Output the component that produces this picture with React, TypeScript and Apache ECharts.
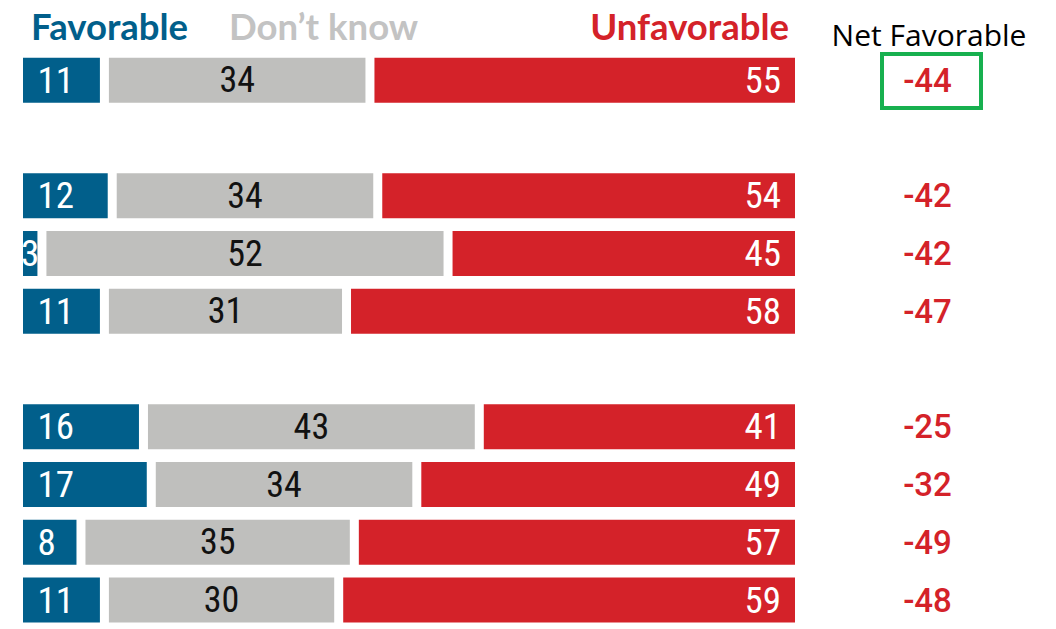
import React, { useEffect, useRef } from 'react';
import * as echarts from 'echarts';

// Rows of the chart; spacer entries are the blank rows between groups
const rows = ['Row 1', 'Spacer 1', 'Row 2', 'Row 3', 'Row 4', 'Spacer 2', 'Row 5', 'Row 6', 'Row 7', 'Row 8'];
const favorable = [11, null, 12, 3, 11, null, 16, 17, 8, 11];
const dontKnow = [34, null, 34, 52, 31, null, 43, 34, 35, 30];
const unfavorable = [55, null, 54, 45, 58, null, 41, 49, 57, 59];
const netFavorable = [-44, null, -42, -42, -47, null, -25, -32, -49, -48];
const headers = ['Favorable', 'Don’t know', 'Unfavorable', 'Net Favorable'];

const BLUE = '#015f8b';
const GRAY = '#bfbfbd';
const RED = '#d42229';
const GREEN = '#17b04f';
const HEAD_FONT = 'Lato, "Open Sans", sans-serif';
const NET_HEAD_FONT = '"Open Sans", Lato, sans-serif';
const NUM_FONT = '"Liberation Sans Narrow", "Roboto Condensed", "DejaVu Sans Condensed", Roboto, sans-serif';
const NET_FONT = 'Roboto, "Liberation Sans Narrow", sans-serif';

export default function App() {
  const ref = useRef<HTMLDivElement>(null);
  useEffect(() => {
    if (!ref.current) return;
    const chart = echarts.init(ref.current, undefined, { renderer: 'svg' });
    const barBase = {
      type: 'bar',
      stack: 'total',
      barWidth: 54,
      itemStyle: { borderColor: '#ffffff', borderWidth: 4.5 },
    };
    const favData = favorable.map((v) =>
      v == null ? null : v < 5 ? { value: v, label: { position: 'inside' } } : v
    );
    chart.setOption({
      animation: false,
      backgroundColor: '#ffffff',
      grid: { left: 18.5, top: 51.33, width: 781, height: 583.33, containLabel: false },
      xAxis: { type: 'value', min: 0, max: 100, show: false },
      yAxis: [
        { type: 'category', data: rows, inverse: true, show: false },
        {
          type: 'category',
          data: rows,
          inverse: true,
          position: 'right',
          axisLine: { show: false },
          axisTick: { show: false },
          splitLine: { show: false },
          axisLabel: {
            margin: 128,
            align: 'center',
            color: RED,
            fontSize: 33,
            fontWeight: 500,
            fontFamily: NET_FONT,
            formatter: (_v: string, i: number) => (netFavorable[i] == null ? '' : String(netFavorable[i])),
          },
        },
      ],
      series: [
        {
          ...barBase,
          name: headers[0],
          data: favData,
          itemStyle: { ...barBase.itemStyle, color: BLUE },
          label: { show: true, position: 'insideLeft', distance: 19, color: '#fff', fontSize: 37, fontFamily: NUM_FONT },
        },
        {
          ...barBase,
          name: headers[1],
          data: dontKnow,
          itemStyle: { ...barBase.itemStyle, color: GRAY },
          label: { show: true, position: 'inside', color: '#111', fontSize: 36, fontFamily: NUM_FONT },
        },
        {
          ...barBase,
          name: headers[2],
          data: unfavorable,
          itemStyle: { ...barBase.itemStyle, color: RED },
          label: { show: true, position: 'insideRight', distance: 18.5, color: '#fff', fontSize: 37, fontFamily: NUM_FONT },
        },
      ],
      graphic: [
        { type: 'text', x: 31, y: 26, style: { text: headers[0], fill: BLUE, font: `bold 36.5px ${HEAD_FONT}`, verticalAlign: 'middle' } },
        { type: 'text', x: 229, y: 26, style: { text: headers[1], fill: '#c3c3c3', font: `bold 36.5px ${HEAD_FONT}`, verticalAlign: 'middle' } },
        { type: 'text', x: 789, y: 26, style: { text: headers[2], fill: RED, font: `bold 36.5px ${HEAD_FONT}`, align: 'right', verticalAlign: 'middle' } },
        { type: 'text', x: 929, y: 34, style: { text: headers[3], fill: '#000', font: `500 30px ${NET_HEAD_FONT}`, align: 'center', verticalAlign: 'middle' } },
        { type: 'rect', shape: { x: 882, y: 54, width: 99, height: 54 }, style: { fill: 'none', stroke: GREEN, lineWidth: 4 } },
      ],
    });
    return () => chart.dispose();
  }, []);
  return <div ref={ref} style={{ position: 'fixed', left: 0, top: 0, width: 1056, height: 629 }} />;
}
